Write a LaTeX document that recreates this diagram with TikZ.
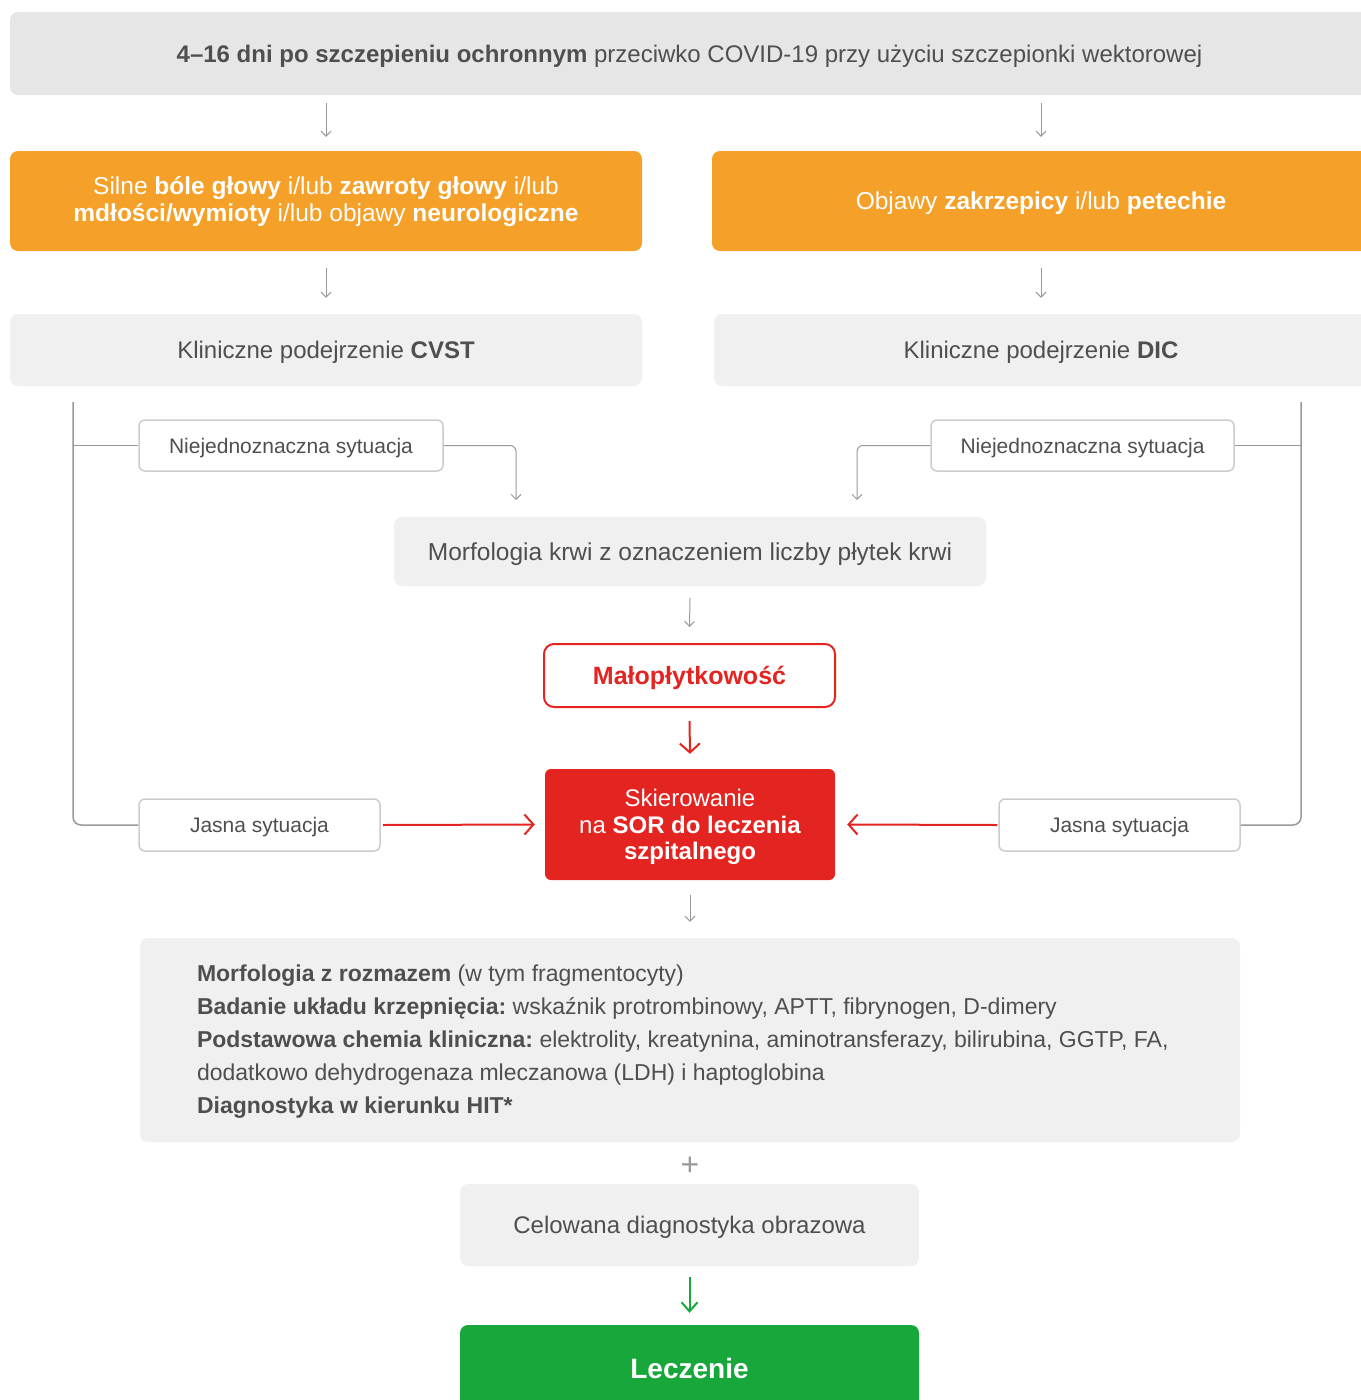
\documentclass[tikz,border=0pt]{standalone}
\usepackage{fontspec}
\setmainfont{Liberation Sans}
\usetikzlibrary{arrows.meta}
\frenchspacing
\definecolor{topgray}{HTML}{E6E6E6}
\definecolor{boxgray}{HTML}{F0F0F0}
\definecolor{orangec}{HTML}{F5A028}
\definecolor{redc}{HTML}{E42421}
\definecolor{greenc}{HTML}{17A73A}
\definecolor{txtc}{HTML}{4F4F4F}
\definecolor{linec}{HTML}{999999}
\definecolor{borderc}{HTML}{CCCCCC}
\tikzset{
  base/.style={inner sep=0pt, text=txtc, font=\fontsize{24}{27}\selectfont,
    text height=17.2pt, text depth=0pt},
  topbox/.style={base, fill=topgray, rounded corners=8pt},
  graybox/.style={base, fill=boxgray, rounded corners=8pt},
  orangebox/.style={base, fill=orangec, text=white, rounded corners=8pt, font=\fontsize{24.5}{27}\selectfont},
  sitbox/.style={base, draw=borderc, line width=1.5pt, fill=white, rounded corners=6pt,
    font=\fontsize{21}{24}\selectfont, text height=15pt},
  garrow/.style={draw=linec, line width=1pt, -{Straight Barb[length=5pt,width=10pt]}},
  rarrow/.style={draw=redc, line width=2pt, -{Straight Barb[length=9pt,width=20pt]}},
  grarrow/.style={draw=greenc, line width=2pt, -{Straight Barb[length=9pt,width=16pt]}},
  bline/.style={draw=linec, line width=1.5pt, rounded corners=8pt}
}
\begin{document}
\begin{tikzpicture}[x=1pt,y=-1pt]
\useasboundingbox (0,0) rectangle (1360,1400);
\node[topbox, minimum width=1359pt, minimum height=83pt] (top) at (689.5,53.5)
  {\textbf{4–16 dni po szczepieniu ochronnym} przeciwko COVID-19 przy użyciu szczepionki wektorowej};
\node[orangebox, minimum width=632pt, minimum height=100pt, text height=10pt, text depth=23.5pt] (lo) at (326,201)
  {\begin{tabular}[t]{@{}c@{}}Silne \textbf{bóle głowy} i/lub \textbf{zawroty głowy} i/lub\\ \textbf{mdłości/wymioty} i/lub objawy \textbf{neurologiczne}\end{tabular}};
\node[orangebox, minimum width=658pt, minimum height=100pt, text height=17.5pt] (ro) at (1041,201)
  {Objawy \textbf{zakrzepicy} i/lub \textbf{petechie}};
\node[graybox, minimum width=632pt, minimum height=72pt] (cvst) at (326,350)
  {Kliniczne podejrzenie \textbf{CVST}};
\node[graybox, minimum width=654pt, minimum height=72pt] (dic) at (1041,350)
  {Kliniczne podejrzenie \textbf{DIC}};
\node[sitbox, minimum width=304pt, minimum height=51pt] (nl) at (291,445.5) {Niejednoznaczna sytuacja};
\node[sitbox, minimum width=303pt, minimum height=51pt] (nr) at (1082.5,445.5) {Niejednoznaczna sytuacja};
\node[graybox, minimum width=592pt, minimum height=69pt, font=\fontsize{24.5}{27}\selectfont] (morf) at (690,551.5)
  {Morfologia krwi z oznaczeniem liczby płytek krwi};
\node[base, draw=redc, line width=2pt, fill=white, rounded corners=10pt, text=redc,
  font=\fontsize{25}{27}\selectfont, text depth=0pt,
  minimum width=291pt, minimum height=63pt] (malo) at (689.5,675.5) {\textbf{Małopłytkowość}};
\node[base, fill=redc, text=white, rounded corners=6pt, minimum width=290pt, minimum height=111pt,
  font=\fontsize{24}{26.5}\selectfont, text height=10pt, text depth=45.8pt] (skier) at (690,824.5)
  {\begin{tabular}[t]{@{}c@{}}Skierowanie\\ na \textbf{SOR do leczenia}\\ \textbf{szpitalnego}\end{tabular}};
\node[sitbox, minimum width=241pt, minimum height=52pt] (jl) at (259.5,825) {Jasna sytuacja};
\node[sitbox, minimum width=241pt, minimum height=52pt] (jr) at (1119.5,825) {Jasna sytuacja};
\node[graybox, inner xsep=57pt, minimum width=1100pt, minimum height=204pt,
  font=\fontsize{23}{33}\selectfont, text height=10pt, text depth=127.6pt] (big) at (690,1040)
  {\parbox[t]{986pt}{\raggedright
   \textbf{Morfologia z rozmazem} (w tym fragmentocyty)\\
   \textbf{Badanie układu krzepnięcia:} wskaźnik protrombinowy, APTT, fibrynogen, D-dimery\\
   \textbf{Podstawowa chemia kliniczna:} elektrolity, kreatynina, aminotransferazy, bilirubina, GGTP, FA,\\
   dodatkowo dehydrogenaza mleczanowa (LDH) i haptoglobina\\
   \textbf{Diagnostyka w kierunku HIT*}}};
\node[base, text=linec, font=\fontsize{32}{34}\selectfont, text height=22.4pt] (plus) at (690,1164) {+};
\node[graybox, minimum width=459pt, minimum height=82pt] (celo) at (689.5,1225) {Celowana diagnostyka obrazowa};
\node[base, fill=greenc, text=white, rounded corners=8pt, minimum width=459pt, minimum height=86pt,
  font=\fontsize{28}{30}\selectfont, text height=20pt] (lecz) at (689.5,1368) {\textbf{Leczenie}};
% arrows
\draw[garrow] ([yshift=-8pt]top.south -| lo.north) -- ([yshift=14pt]lo.north);
\draw[garrow] ([yshift=-8pt]top.south -| ro.north) -- ([yshift=14pt]ro.north);
\draw[garrow] ([yshift=-17pt]lo.south) -- ([yshift=16pt]cvst.north);
\draw[garrow] ([yshift=-17pt]ro.south) -- ([yshift=16pt]ro.south |- dic.north);
% brackets
\coordinate (lt) at (73,402);
\coordinate (rt) at (1301,402);
\draw[bline] (lt) |- (jl.west);
\draw[bline] (lt |- nl.west) -- (nl.west);
\draw[bline] (rt) |- (jr.east);
\draw[bline] (rt |- nr.east) -- (nr.east);
\coordinate (ml) at (516,500);
\coordinate (mr) at (857,500);
\draw[garrow, rounded corners=6pt] (nl.east) -| (ml);
\draw[garrow, rounded corners=6pt] (nr.west) -| (mr);
\draw[garrow] ([yshift=-12pt]morf.south) -- ([yshift=16pt]malo.north);
\draw[rarrow] ([yshift=-13pt]malo.south) -- ([yshift=15pt]skier.north);
\draw[rarrow] ([xshift=2pt]jl.east) -- ([xshift=-10pt]skier.west);
\draw[rarrow] ([xshift=-1pt]jr.west) -- ([xshift=12pt]skier.east);
\draw[garrow] ([yshift=-15pt]skier.south) -- ([yshift=16pt]big.north);
\draw[grarrow] ([yshift=-11pt]celo.south) -- ([yshift=12pt]lecz.north);
\end{tikzpicture}
\end{document}
